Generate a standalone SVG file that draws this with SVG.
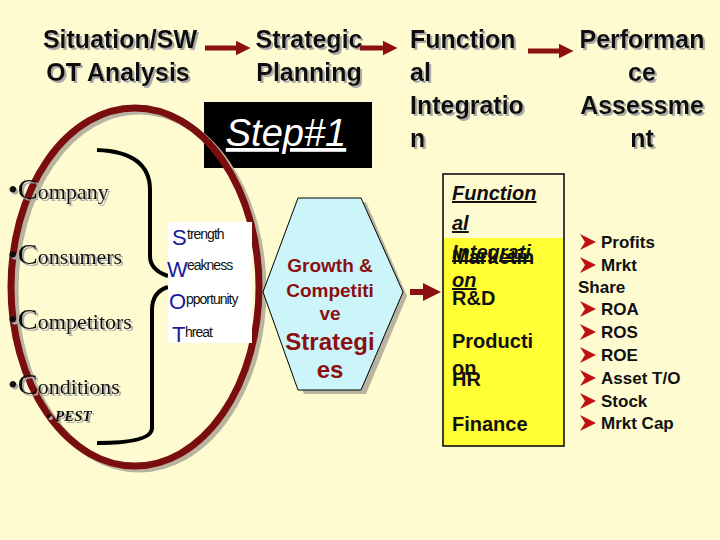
<svg xmlns="http://www.w3.org/2000/svg" width="720" height="540" viewBox="0 0 720 540">
<defs>
<marker id="ah" markerWidth="3" markerHeight="3" refX="1.5" refY="1.5" orient="auto" markerUnits="strokeWidth"><path d="M0,0 L3,1.5 L0,3 Z" fill="#8B1010"/></marker>
<filter id="ds" x="-5%" y="-20%" width="115%" height="150%"><feDropShadow dx="2" dy="2" stdDeviation="0.3" flood-color="#aaa"/></filter>
</defs>
<style>
.h{font-family:"Liberation Sans",Arial,sans-serif;font-weight:bold;font-size:25px;fill:#111}
.c{font-family:"Liberation Serif","Times New Roman",serif;font-size:22px;fill:#111}
.big{font-size:30px}
.sw{font-family:"Liberation Sans",Arial,sans-serif;font-size:14px;fill:#111;letter-spacing:-1px}
.sl{font-family:"Liberation Sans",Arial,sans-serif;font-size:22px;fill:#1a1a9a}
.g{font-family:"Liberation Sans",Arial,sans-serif;font-weight:bold;fill:#8B1010;text-anchor:middle}
.f{font-family:"Liberation Sans",Arial,sans-serif;font-weight:bold;font-size:20px;fill:#111}
.p{font-family:"Liberation Sans",Arial,sans-serif;font-weight:bold;font-size:17px;fill:#111}
</style>
<rect width="720" height="540" fill="#FFFBD0"/>
<g id="headers" filter="url(#ds)">
<text class="h" x="120" y="48" text-anchor="middle">Situation/SW</text>
<text class="h" x="118" y="81" text-anchor="middle">OT Analysis</text>
<text class="h" x="309" y="48" text-anchor="middle">Strategic</text>
<text class="h" x="309" y="81" text-anchor="middle">Planning</text>
<text class="h" x="410" y="48">Function</text>
<text class="h" x="410" y="81">al</text>
<text class="h" x="410" y="114">Integratio</text>
<text class="h" x="410" y="147">n</text>
<text class="h" x="642" y="48" text-anchor="middle">Performan</text>
<text class="h" x="642" y="81" text-anchor="middle">ce</text>
<text class="h" x="642" y="114" text-anchor="middle">Assessme</text>
<text class="h" x="642" y="147" text-anchor="middle">nt</text>
</g>
<g id="step1">
<rect x="204" y="102" width="168" height="66" fill="#000"/>
<text x="286" y="146" font-family="Liberation Sans,Arial,sans-serif" font-style="italic" font-size="38" fill="#fff" text-anchor="middle" text-decoration="underline">Step#1</text>
</g>
<g id="oval">
<ellipse cx="139" cy="290" rx="124" ry="179" fill="none" stroke="#b8b4a0" stroke-width="7"/>
<ellipse cx="135" cy="287" rx="124" ry="179" fill="none" stroke="#7A0E0E" stroke-width="7"/>
</g>
<g id="factors" filter="url(#ds)">
<text class="c" x="8" y="199"><tspan font-size="28">•</tspan><tspan class="big">C</tspan>ompany</text>
<text class="c" x="8" y="264"><tspan font-size="28">•</tspan><tspan class="big">C</tspan>onsumers</text>
<text class="c" x="8" y="329"><tspan font-size="28">•</tspan><tspan class="big">C</tspan>ompetitors</text>
<text class="c" x="8" y="394"><tspan font-size="28">•</tspan><tspan class="big">C</tspan>onditions</text>
<text x="46" y="421" font-family="Liberation Serif,serif" font-style="italic" font-weight="bold" font-size="15" fill="#111">• PEST</text>
</g>
<g id="braces" fill="none" stroke="#000" stroke-width="4">
<path d="M97,150 Q150,152 150,190 L150,256 Q150,270 168,276"/>
<path d="M168,287 Q152,292 152,310 L152,428 Q152,443 97,443"/>
</g>
<g id="swot">
<rect x="168" y="222" width="84" height="121" fill="#fff"/>
<text class="sl" x="172" y="245">S</text><text class="sw" x="187" y="239">trength</text>
<text class="sl" x="167" y="277">W</text><text class="sw" x="187" y="270">eakness</text>
<text class="sl" x="169" y="309">O</text><text class="sw" x="186" y="304">pportunity</text>
<text class="sl" x="172" y="342">T</text><text class="sw" x="185" y="337">hreat</text>
</g>
<g id="hexagon">
<polygon points="304,202 366,202 407,296 366,394 304,394 267,296" fill="#b8b4a0"/>
<polygon points="298,198 361,198 403,292 361,390 298,390 263,292" fill="#CCF5FA" stroke="#000" stroke-width="1"/>
<text class="g" x="330" y="272" font-size="19">Growth &amp;</text>
<text class="g" x="330" y="297" font-size="19">Competiti</text>
<text class="g" x="330" y="320" font-size="19">ve</text>
<text class="g" x="330" y="350" font-size="24">Strategi</text>
<text class="g" x="330" y="378" font-size="24">es</text>
</g>
<g id="func-box">
<rect x="443" y="238" width="121" height="208" fill="#FFFF33"/>
<rect x="443" y="174" width="121" height="272" fill="none" stroke="#000" stroke-width="1.5"/>
<text class="f" x="452" y="200" font-style="italic" text-decoration="underline">Function</text>
<text class="f" x="452" y="230" font-style="italic" text-decoration="underline">al</text>
<text class="f" x="452" y="264">Marketin</text>
<text class="f" x="452" y="259" font-style="italic" text-decoration="underline">Integrati</text>
<text class="f" x="452" y="287" font-style="italic" text-decoration="underline">on</text>
<text class="f" x="452" y="305">R&amp;D</text>
<text class="f" x="452" y="348">Producti</text>
<text class="f" x="452" y="375">on</text>
<text class="f" x="452" y="386">HR</text>
<text class="f" x="452" y="431">Finance</text>
</g>
<g id="metrics">
<text class="p" x="601" y="248">Profits</text>
<text class="p" x="601" y="271">Mrkt</text>
<text class="p" x="578" y="293">Share</text>
<text class="p" x="601" y="315">ROA</text>
<text class="p" x="601" y="338">ROS</text>
<text class="p" x="601" y="361">ROE</text>
<text class="p" x="601" y="384">Asset T/O</text>
<text class="p" x="601" y="407">Stock</text>
<text class="p" x="601" y="429">Mrkt Cap</text>
<g fill="#C01010">
<path d="M580,234 L596,242 L580,250 L585,242 Z"/>
<path d="M580,257 L596,265 L580,273 L585,265 Z"/>
<path d="M580,301 L596,309 L580,317 L585,309 Z"/>
<path d="M580,324 L596,332 L580,340 L585,332 Z"/>
<path d="M580,347 L596,355 L580,363 L585,355 Z"/>
<path d="M580,370 L596,378 L580,386 L585,378 Z"/>
<path d="M580,393 L596,401 L580,409 L585,401 Z"/>
<path d="M580,415 L596,423 L580,431 L585,423 Z"/>
</g>
</g>
<g id="connectors" stroke="#8B1010" stroke-width="5" fill="none">
<line x1="205" y1="48" x2="243" y2="48" marker-end="url(#ah)"/>
<line x1="360" y1="48" x2="390" y2="48" marker-end="url(#ah)"/>
<line x1="528" y1="51" x2="566" y2="51" marker-end="url(#ah)"/>
<line x1="410" y1="292" x2="432" y2="292" stroke-width="6" marker-end="url(#ah)"/>
</g>
</svg>
